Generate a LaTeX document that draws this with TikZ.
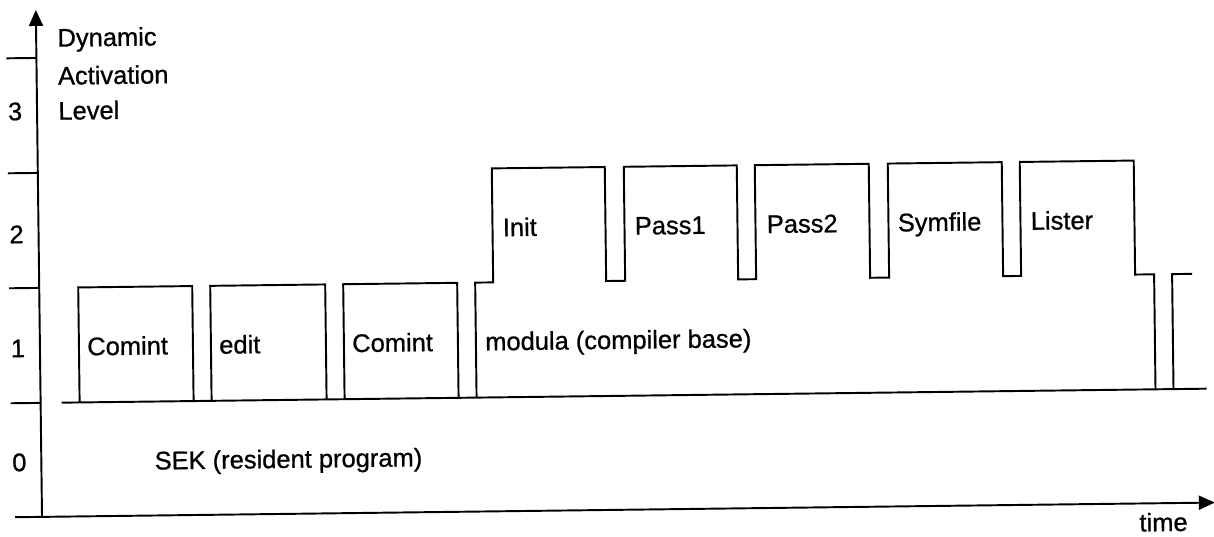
\documentclass[tikz,border=0pt]{standalone}
\usepackage{fontspec}
\setmainfont{Liberation Sans}
\newfontfamily\printfont{Liberation Sans}[FakeBold=0.8]
\usetikzlibrary{arrows.meta}
\begin{document}
\begin{tikzpicture}[x=0.02cm,y=-0.02cm,
  line/.style={line width=1.1pt, line join=miter},
  axisline/.style={line width=1.1pt, -{Triangle[length=0.32cm,width=0.28cm]}},
  lbl/.style={anchor=base west, inner sep=0pt, transform shape, font=\printfont\fontsize{14.5}{17}\selectfont},
  num/.style={anchor=base, inner sep=0pt, transform shape, font=\printfont\fontsize{14.5}{17}\selectfont}]
\useasboundingbox (0,0) rectangle (1214,537);
\begin{scope}[rotate around={0.7:(607,268)}]
  % axes
  \coordinate (origin) at (39,510);
  \coordinate (ytip) at (39,3);
  \coordinate (xstart) at (12,510);
  \coordinate (xtip) at (1212,510);
  \draw[axisline] (origin) -- (ytip);
  \draw[axisline] (xstart) -- (xtip);
  % ticks
  \foreach \y/\n in {51/t4,166/t3,281/t2,396/t1}{
    \coordinate (\n a) at (9,\y);
    \coordinate (\n b) at (39,\y);
    \draw[line] (\n a) -- (\n b);
  }
  % level numbers
  \node[num] (n3) at (17,113) {3};
  \node[num] (n2) at (17,236) {2};
  \node[num] (n1) at (17,350) {1};
  \node[num] (n0) at (17,464) {0};
  % axis title
  \node[lbl] (dyn) at (60,40) {Dynamic};
  \node[lbl] (act) at (60,78) {Activation};
  \node[lbl] (lev) at (60,113) {Level};
  % level-1 base line
  \draw[line] (60,396) -- (1205,396);
  % level-1 boxes
  \draw[line] (78,396) -- (78,281) -- (192,281) -- (192,396);
  \draw[line] (210,396) -- (210,281) -- (325,281) -- (325,396);
  \draw[line] (343,396) -- (343,281) -- (457,281) -- (457,396);
  % modula with its passes
  \draw[line] (475,396) -- (475,281) -- (493,281) -- (493,167) -- (606,167) -- (606,281)
    -- (625,281) -- (625,167) -- (738,167) -- (738,281)
    -- (756,281) -- (756,167) -- (870,167) -- (870,281)
    -- (889,281) -- (889,167) -- (1003,167) -- (1003,281)
    -- (1021,281) -- (1021,167) -- (1135,167) -- (1135,281)
    -- (1154,281) -- (1154,396);
  \draw[line] (1172,396) -- (1172,281) -- (1192,281);
  % labels
  \node[lbl] (comint1) at (86,349) {Comint};
  \node[lbl] (edit) at (218,349) {edit};
  \node[lbl] (comint2) at (351,349) {Comint};
  \node[lbl] (modula) at (484,349) {modula (compiler base)};
  \node[lbl] (init) at (503,235) {Init};
  \node[lbl] (pass1) at (635,235) {Pass1};
  \node[lbl] (pass2) at (767,235) {Pass2};
  \node[lbl] (symfile) at (898,235) {Symfile};
  \node[lbl] (lister) at (1031,235) {Lister};
  \node[lbl] (sek) at (152,464) {SEK (resident program)};
  \node[lbl] (time) at (1136,538) {time};
\end{scope}
\end{tikzpicture}
\end{document}
